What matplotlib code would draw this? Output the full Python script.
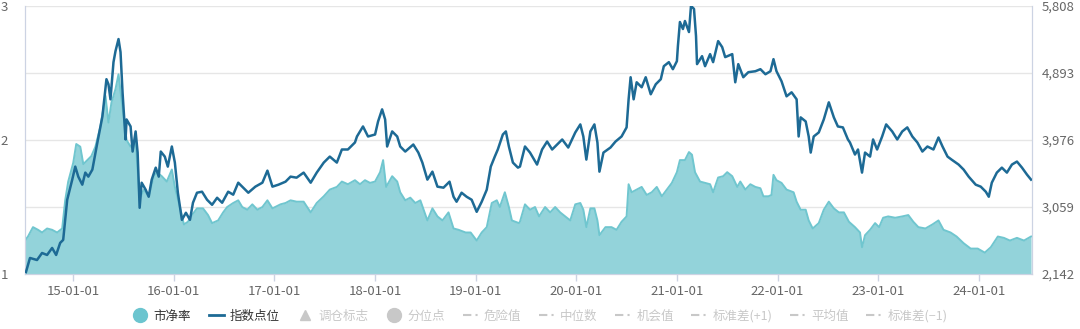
import matplotlib
matplotlib.use("Agg")
import matplotlib.pyplot as plt
from matplotlib.lines import Line2D

plt.rcParams['font.family'] = ['Noto Sans CJK SC', 'DejaVu Sans']

# ----------------------------
# Price-to-book (left axis), x in decimal years
# ----------------------------
pb_years = [
    2014.52, 2014.55, 2014.60, 2014.65, 2014.69, 2014.74, 2014.79, 2014.84, 2014.89, 2014.92,
    2014.95, 2015.00, 2015.03, 2015.07, 2015.10, 2015.14, 2015.18, 2015.22, 2015.27, 2015.32,
    2015.35, 2015.38, 2015.42, 2015.45, 2015.48, 2015.53, 2015.57, 2015.62, 2015.66, 2015.70,
    2015.75, 2015.80, 2015.83, 2015.88, 2015.93, 2015.98, 2016.01, 2016.06, 2016.10, 2016.14,
    2016.18, 2016.23, 2016.29, 2016.34, 2016.38, 2016.44, 2016.49, 2016.53, 2016.59, 2016.64,
    2016.68, 2016.73, 2016.78, 2016.83, 2016.88, 2016.93, 2016.98, 2017.06, 2017.11, 2017.16,
    2017.22, 2017.29, 2017.36, 2017.42, 2017.49, 2017.55, 2017.62, 2017.67, 2017.73, 2017.80,
    2017.85, 2017.90, 2017.95, 2018.00, 2018.05, 2018.08, 2018.11, 2018.17, 2018.22, 2018.25,
    2018.30, 2018.35, 2018.40, 2018.45, 2018.52, 2018.57, 2018.62, 2018.67, 2018.73, 2018.78,
    2018.83, 2018.90, 2018.95, 2019.01, 2019.06, 2019.11, 2019.16, 2019.21, 2019.24, 2019.29,
    2019.33, 2019.36, 2019.43, 2019.44, 2019.49, 2019.54, 2019.59, 2019.63, 2019.69, 2019.74,
    2019.79, 2019.84, 2019.89, 2019.94, 2019.99, 2020.04, 2020.07, 2020.10, 2020.14, 2020.18,
    2020.21, 2020.23, 2020.29, 2020.35, 2020.40, 2020.45, 2020.50, 2020.52, 2020.55, 2020.60,
    2020.65, 2020.70, 2020.75, 2020.80, 2020.85, 2020.90, 2020.95, 2021.00, 2021.03, 2021.08,
    2021.12, 2021.15, 2021.18, 2021.23, 2021.28, 2021.33, 2021.36, 2021.41, 2021.46, 2021.50,
    2021.55, 2021.60, 2021.63, 2021.68, 2021.73, 2021.78, 2021.83, 2021.86, 2021.91, 2021.94,
    2021.96, 2021.99, 2022.04, 2022.09, 2022.16, 2022.19, 2022.23, 2022.28, 2022.31, 2022.35,
    2022.41, 2022.46, 2022.51, 2022.56, 2022.61, 2022.66, 2022.71, 2022.77, 2022.82, 2022.84,
    2022.87, 2022.92, 2022.97, 2023.01, 2023.05, 2023.10, 2023.17, 2023.24, 2023.30, 2023.35,
    2023.40, 2023.47, 2023.54, 2023.60, 2023.65, 2023.72, 2023.78, 2023.85, 2023.92, 2023.99,
    2024.06, 2024.12, 2024.19, 2024.25, 2024.31, 2024.38, 2024.45, 2024.52,
]
pb_values = [
    1.25, 1.28, 1.35, 1.33, 1.31, 1.34, 1.33, 1.31, 1.34, 1.55,
    1.69, 1.83, 1.97, 1.95, 1.82, 1.85, 1.88, 1.95, 2.10, 2.33,
    2.13, 2.28, 2.38, 2.49, 2.30, 2.00, 1.95, 2.00, 1.55, 1.63,
    1.58, 1.73, 1.76, 1.73, 1.69, 1.78, 1.65, 1.50, 1.37, 1.39,
    1.44, 1.49, 1.49, 1.44, 1.38, 1.40, 1.46, 1.50, 1.53, 1.55,
    1.50, 1.48, 1.52, 1.48, 1.50, 1.55, 1.49, 1.52, 1.53, 1.55,
    1.54, 1.54, 1.46, 1.53, 1.58, 1.63, 1.65, 1.69, 1.67, 1.70,
    1.67, 1.70, 1.68, 1.69, 1.76, 1.85, 1.65, 1.73, 1.69, 1.61,
    1.55, 1.57, 1.53, 1.55, 1.40, 1.49, 1.43, 1.40, 1.46, 1.34,
    1.33, 1.31, 1.31, 1.25, 1.31, 1.35, 1.53, 1.55, 1.50, 1.61,
    1.50, 1.40, 1.38, 1.39, 1.52, 1.48, 1.50, 1.43, 1.50, 1.46,
    1.50, 1.46, 1.43, 1.40, 1.52, 1.53, 1.48, 1.35, 1.49, 1.49,
    1.40, 1.29, 1.35, 1.35, 1.33, 1.39, 1.43, 1.67, 1.61, 1.63,
    1.65, 1.59, 1.61, 1.65, 1.58, 1.63, 1.68, 1.76, 1.85, 1.85,
    1.91, 1.89, 1.76, 1.69, 1.68, 1.67, 1.61, 1.72, 1.73, 1.76,
    1.73, 1.65, 1.69, 1.63, 1.67, 1.65, 1.64, 1.58, 1.58, 1.59,
    1.74, 1.70, 1.68, 1.63, 1.61, 1.54, 1.48, 1.48, 1.40, 1.34,
    1.38, 1.48, 1.54, 1.49, 1.46, 1.46, 1.39, 1.35, 1.31, 1.20,
    1.29, 1.33, 1.38, 1.35, 1.42, 1.43, 1.42, 1.43, 1.44, 1.39,
    1.35, 1.34, 1.37, 1.40, 1.33, 1.31, 1.28, 1.23, 1.19, 1.19,
    1.16, 1.20, 1.28, 1.27, 1.25, 1.27, 1.25, 1.28,
]

# ----------------------------
# Index level (right axis)
# ----------------------------
idx_years = [
    2014.53, 2014.57, 2014.64, 2014.69, 2014.74, 2014.79, 2014.83, 2014.87, 2014.90, 2014.94,
    2014.99, 2015.02, 2015.05, 2015.09, 2015.12, 2015.15, 2015.19, 2015.24, 2015.29, 2015.33,
    2015.35, 2015.37, 2015.40, 2015.42, 2015.45, 2015.47, 2015.49, 2015.52, 2015.53, 2015.57,
    2015.59, 2015.62, 2015.64, 2015.66, 2015.68, 2015.72, 2015.75, 2015.78, 2015.82, 2015.85,
    2015.87, 2015.91, 2015.94, 2015.98, 2016.01, 2016.04, 2016.08, 2016.12, 2016.16, 2016.19,
    2016.23, 2016.28, 2016.33, 2016.38, 2016.43, 2016.48, 2016.54, 2016.59, 2016.64, 2016.69,
    2016.74, 2016.81, 2016.88, 2016.93, 2016.98, 2017.04, 2017.11, 2017.16, 2017.22, 2017.29,
    2017.36, 2017.42, 2017.49, 2017.55, 2017.62, 2017.67, 2017.73, 2017.80, 2017.82, 2017.88,
    2017.93, 2018.00, 2018.03, 2018.07, 2018.10, 2018.12, 2018.17, 2018.22, 2018.25, 2018.30,
    2018.38, 2018.43, 2018.47, 2018.52, 2018.57, 2018.62, 2018.68, 2018.74, 2018.78, 2018.81,
    2018.86, 2018.91, 2018.96, 2019.01, 2019.06, 2019.11, 2019.15, 2019.19, 2019.22, 2019.27,
    2019.30, 2019.33, 2019.37, 2019.42, 2019.44, 2019.49, 2019.54, 2019.61, 2019.66, 2019.71,
    2019.76, 2019.81, 2019.86, 2019.92, 2019.99, 2020.04, 2020.07, 2020.10, 2020.14, 2020.18,
    2020.21, 2020.23, 2020.27, 2020.34, 2020.39, 2020.45, 2020.50, 2020.52, 2020.54, 2020.57,
    2020.60, 2020.65, 2020.69, 2020.74, 2020.79, 2020.84, 2020.87, 2020.92, 2020.96, 2021.00,
    2021.01, 2021.03, 2021.06, 2021.08, 2021.12, 2021.14, 2021.17, 2021.19, 2021.20, 2021.25,
    2021.28, 2021.33, 2021.36, 2021.41, 2021.45, 2021.48, 2021.55, 2021.58, 2021.61, 2021.66,
    2021.71, 2021.78, 2021.83, 2021.88, 2021.93, 2021.96, 2021.99, 2022.04, 2022.09, 2022.14,
    2022.19, 2022.21, 2022.23, 2022.28, 2022.31, 2022.33, 2022.36, 2022.41, 2022.46, 2022.51,
    2022.56, 2022.60, 2022.65, 2022.70, 2022.72, 2022.77, 2022.80, 2022.84, 2022.87, 2022.92,
    2022.95, 2022.99, 2023.04, 2023.08, 2023.14, 2023.19, 2023.24, 2023.29, 2023.34, 2023.39,
    2023.44, 2023.49, 2023.55, 2023.60, 2023.64, 2023.69, 2023.73, 2023.80, 2023.85, 2023.90,
    2023.97, 2024.02, 2024.07, 2024.10, 2024.13, 2024.18, 2024.23, 2024.28, 2024.33, 2024.38,
    2024.43, 2024.48, 2024.52,
]
idx_values = [
    2169, 2362, 2334, 2430, 2403, 2499, 2403, 2568, 2609, 3158,
    3433, 3611, 3474, 3364, 3529, 3474, 3570, 3941, 4298, 4806,
    4737, 4531, 5039, 5190, 5355, 5176, 4627, 3982, 4256, 4160,
    3817, 4092, 3803, 3048, 3391, 3295, 3199, 3433, 3597, 3474,
    3817, 3748, 3611, 3886, 3666, 3254, 2883, 2980, 2883, 3117,
    3254, 3268, 3158, 3089, 3185, 3117, 3268, 3227, 3391, 3323,
    3254, 3337, 3391, 3556, 3337, 3364, 3405, 3474, 3460, 3529,
    3391, 3529, 3666, 3748, 3666, 3845, 3845, 3941, 4023, 4160,
    4023, 4050, 4229, 4394, 4256, 3886, 4092, 4023, 3886, 3817,
    3913, 3803, 3666, 3433, 3542, 3337, 3323, 3405, 3199, 3131,
    3254, 3199, 3158, 2993, 3131, 3295, 3611, 3748, 3845, 4050,
    4092, 3886, 3666, 3597, 3611, 3886, 3803, 3639, 3845, 3954,
    3845, 3913, 3982, 3872, 4078, 4188, 4023, 3707, 4092, 4188,
    3941, 3542, 3803, 3872, 3954, 4023, 4147, 4531, 4833, 4531,
    4764, 4696, 4833, 4600, 4737, 4806, 4984, 5039, 4943, 5053,
    5259, 5588, 5492, 5602, 5451, 5808, 5767, 5396, 5012, 5121,
    4984, 5149, 5039, 5327, 5245, 5108, 5149, 4764, 5012, 4833,
    4902, 4915, 4943, 4874, 4915, 5080, 4915, 4778, 4572, 4627,
    4531, 4023, 4284, 4229, 4023, 3803, 4023, 4078, 4256, 4490,
    4284, 4160, 4147, 3982, 3941, 3776, 3845, 3529, 3803, 3748,
    3982, 3845, 4023, 4188, 4092, 3982, 4092, 4147, 4023, 3941,
    3817, 3886, 3845, 4009, 3886, 3748, 3707, 3639, 3570, 3474,
    3364, 3337, 3268, 3199, 3391, 3529, 3597, 3529, 3639, 3680,
    3597, 3501, 3433,
]

# Axis ticks
year_ticks = [2015, 2016, 2017, 2018, 2019, 2020, 2021, 2022, 2023, 2024]
year_labels = ["15-01-01", "16-01-01", "17-01-01", "18-01-01", "19-01-01",
               "20-01-01", "21-01-01", "22-01-01", "23-01-01", "24-01-01"]
pb_ticks = [1, 1.5, 2, 2.5, 3]
pb_labels = ["1", "", "2", "", "3"]
idx_ticks = [2142, 3059, 3976, 4893, 5808]
idx_labels = ["2,142", "3,059", "3,976", "4,893", "5,808"]

X_MIN, X_MAX = 2014.52, 2024.53

FILL = "#93d3da"
FILL_EDGE = "#70c6cf"
LINE = "#1d6a95"
AXIS = "#ccd3e3"
GRID = "#e6e6e6"
TEXT = "#666666"
MUTED = "#c8c8c8"

fig = plt.figure(figsize=(10.8, 3.29), dpi=100)
ax = fig.add_axes([0.0231, 0.167, 0.9325, 0.815])

ax.fill_between(pb_years, pb_values, 1, color=FILL, linewidth=0, zorder=2)
ax.plot(pb_years, pb_values, color=FILL_EDGE, linewidth=1.4, zorder=3)
ax.set_xlim(X_MIN, X_MAX)
ax.set_ylim(1, 3)
ax.set_yticks(pb_ticks)
ax.set_yticklabels(pb_labels)
ax.grid(axis="y", color=GRID, linewidth=1, zorder=0)
ax.set_xticks(year_ticks)
ax.set_xticklabels(year_labels)
ax.tick_params(axis="x", length=5, width=1, color=AXIS, labelcolor=TEXT,
               labelsize=9.5, pad=3)
ax.tick_params(axis="y", length=0, labelcolor=TEXT, labelsize=9.5, pad=12)
ax.spines["top"].set_visible(False)
for side in ["left", "bottom", "right"]:
    ax.spines[side].set_color(AXIS)

ax2 = ax.twinx()
ax2.plot(idx_years, idx_values, color=LINE, linewidth=1.8, zorder=4)
ax2.set_ylim(2142, 5808)
ax2.set_yticks(idx_ticks)
ax2.set_yticklabels(idx_labels)
ax2.tick_params(axis="y", length=0, labelcolor=TEXT, labelsize=9.5, pad=7)
ax2.spines["top"].set_visible(False)
for side in ["left", "bottom", "right"]:
    ax2.spines[side].set_color(AXIS)
ax2.set_xlim(X_MIN, X_MAX)

# Legend row under the chart
dash_dot = (0, (4, 2, 1, 2))
handles = [
    Line2D([], [], marker="o", linestyle="none", markersize=10, color="#6cc5cf"),
    Line2D([], [], color=LINE, linewidth=2),
    Line2D([], [], marker="^", linestyle="none", markersize=7, color=MUTED),
    Line2D([], [], marker="o", linestyle="none", markersize=10, color=MUTED),
    Line2D([], [], color=MUTED, linewidth=1.5, linestyle=dash_dot),
    Line2D([], [], color=MUTED, linewidth=1.5, linestyle=dash_dot),
    Line2D([], [], color=MUTED, linewidth=1.5, linestyle=dash_dot),
    Line2D([], [], color=MUTED, linewidth=1.5, linestyle=dash_dot),
    Line2D([], [], color=MUTED, linewidth=1.5, linestyle=dash_dot),
    Line2D([], [], color=MUTED, linewidth=1.5, linestyle=dash_dot),
]
names = ["市净率", "指数点位", "调仓标志", "分位点", "危险值",
         "中位数", "机会值", "标准差(+1)", "平均值", "标准差(−1)"]
leg = fig.legend(handles, names, loc="lower center", bbox_to_anchor=(0.5, -0.015),
                 ncol=10, frameon=False, fontsize=9, handlelength=1.2,
                 handletextpad=0.5, columnspacing=1.4)
for i, t in enumerate(leg.get_texts()):
    t.set_color("#333333" if i < 2 else MUTED)

fig.savefig("out.png", dpi=100)
